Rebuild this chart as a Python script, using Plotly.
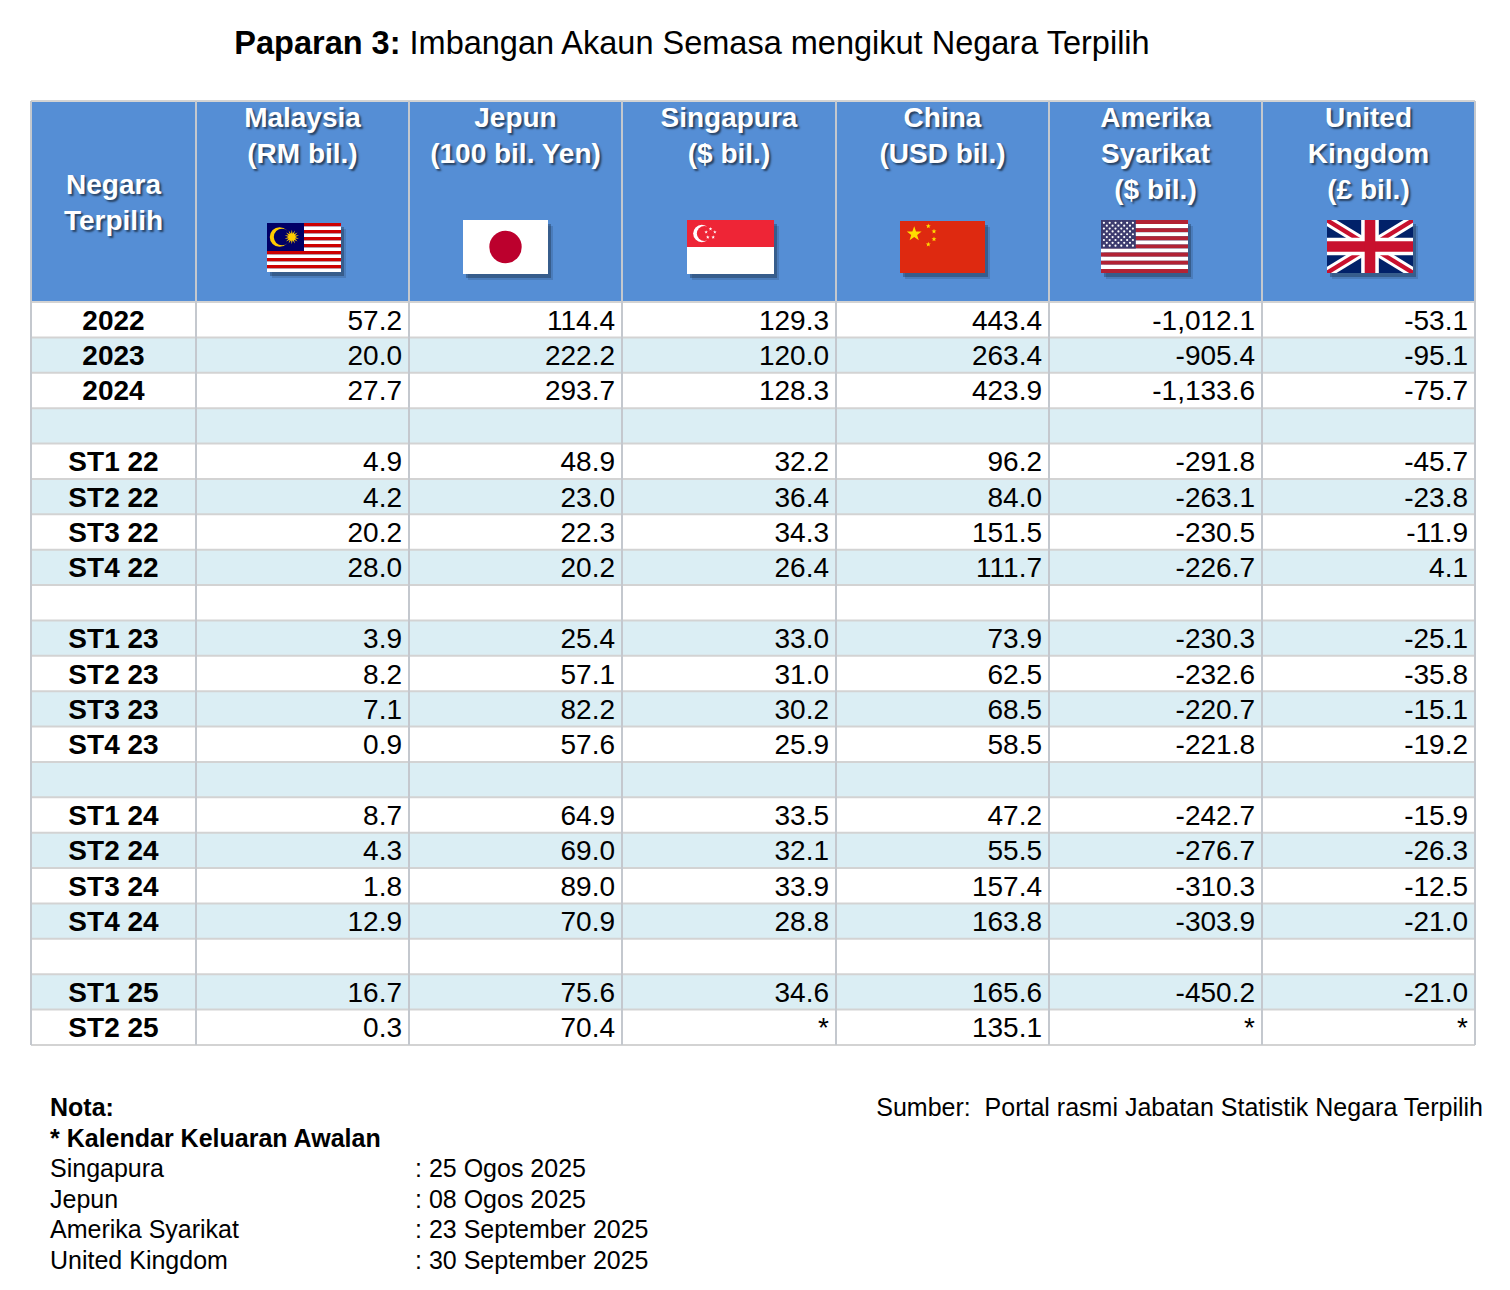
import math

import plotly.graph_objects as go

# ---------------- data ----------------
periods = [
    "2022", "2023", "2024", "",
    "ST1 22", "ST2 22", "ST3 22", "ST4 22", "",
    "ST1 23", "ST2 23", "ST3 23", "ST4 23", "",
    "ST1 24", "ST2 24", "ST3 24", "ST4 24", "",
    "ST1 25", "ST2 25",
]

malaysia = [57.2, 20.0, 27.7, None, 4.9, 4.2, 20.2, 28.0, None, 3.9, 8.2, 7.1, 0.9, None,
            8.7, 4.3, 1.8, 12.9, None, 16.7, 0.3]
jepun = [114.4, 222.2, 293.7, None, 48.9, 23.0, 22.3, 20.2, None, 25.4, 57.1, 82.2, 57.6, None,
         64.9, 69.0, 89.0, 70.9, None, 75.6, 70.4]
singapura = [129.3, 120.0, 128.3, None, 32.2, 36.4, 34.3, 26.4, None, 33.0, 31.0, 30.2, 25.9, None,
             33.5, 32.1, 33.9, 28.8, None, 34.6, "*"]
china = [443.4, 263.4, 423.9, None, 96.2, 84.0, 151.5, 111.7, None, 73.9, 62.5, 68.5, 58.5, None,
         47.2, 55.5, 157.4, 163.8, None, 165.6, 135.1]
amerika = [-1012.1, -905.4, -1133.6, None, -291.8, -263.1, -230.5, -226.7, None, -230.3, -232.6,
           -220.7, -221.8, None, -242.7, -276.7, -310.3, -303.9, None, -450.2, "*"]
uk = [-53.1, -95.1, -75.7, None, -45.7, -23.8, -11.9, 4.1, None, -25.1, -35.8, -15.1, -19.2, None,
      -15.9, -26.3, -12.5, -21.0, None, -21.0, "*"]

series = [malaysia, jepun, singapura, china, amerika, uk]

first_header = ["Negara", "Terpilih"]
headers = [
    ["Malaysia", "(RM bil.)"],
    ["Jepun", "(100 bil. Yen)"],
    ["Singapura", "($ bil.)"],
    ["China", "(USD bil.)"],
    ["Amerika", "Syarikat", "($ bil.)"],
    ["United", "Kingdom", "(£ bil.)"],
]

title_bold = "Paparan 3:"
title_rest = "Imbangan Akaun Semasa mengikut Negara Terpilih"
source = "Sumber:  Portal rasmi Jabatan Statistik Negara Terpilih"
note_head = ["Nota:", "* Kalendar Keluaran Awalan"]
release_country = ["Singapura", "Jepun", "Amerika Syarikat", "United Kingdom"]
release_date = ["25 Ogos 2025", "08 Ogos 2025", "23 September 2025", "30 September 2025"]

# ---------------- layout constants ----------------
W, H = 1510, 1290
PAGE_MARGIN = 8  # default body margin of the html page
FONT = "Liberation Sans, Arial, sans-serif"
COL_X = [31, 196, 409, 622, 836, 1049, 1262, 1475]
HEAD_TOP, HEAD_BOT, TABLE_BOT = 101, 302, 1045
ROW_H = (TABLE_BOT - HEAD_BOT) / len(periods)
HEAD_BLUE = "#558ED5"
ROW_BLUE = "#DBEEF4"
GRID = "#D3D3D3"
DY = 3  # baseline nudge for text


def fmt(v):
    if v is None:
        return ""
    if isinstance(v, str):
        return v
    return f"{v:,.1f}"


def rect(x0, y0, x1, y1, color):
    return dict(type="rect", xref="x", yref="y", x0=x0, y0=y0, x1=x1, y1=y1,
                fillcolor=color, line_width=0, layer="below")


def circle(cx, cy, r, color):
    return dict(type="circle", xref="x", yref="y", x0=cx - r, y0=cy - r, x1=cx + r, y1=cy + r,
                fillcolor=color, line_width=0, layer="below")


def poly(pts, color):
    path = "M " + " L ".join(f"{x:.2f},{y:.2f}" for x, y in pts) + " Z"
    return dict(type="path", xref="x", yref="y", path=path, fillcolor=color,
                line_width=0, layer="below")


def star(cx, cy, r_out, r_in, n, color, rot=-90):
    pts = []
    for k in range(2 * n):
        r = r_out if k % 2 == 0 else r_in
        a = math.radians(rot + k * 180 / n)
        pts.append((cx + r * math.cos(a), cy + r * math.sin(a)))
    return poly(pts, color)


def shadow(x0, y0, x1, y1):
    return [rect(x0 + 5, y0 + 6, x1 + 5, y1 + 6, "rgba(0,0,0,0.12)"),
            rect(x0 + 3, y0 + 4, x1 + 3, y1 + 4, "rgba(0,0,0,0.25)")]


shapes = []

# header + row fills
shapes.append(rect(COL_X[0], HEAD_TOP, COL_X[-1], HEAD_BOT, HEAD_BLUE))
for i in range(len(periods)):
    y0 = HEAD_BOT + i * ROW_H
    shapes.append(rect(COL_X[0], y0, COL_X[-1], y0 + ROW_H, "white" if i % 2 == 0 else ROW_BLUE))

# grid
for i in range(len(periods) + 1):
    y = HEAD_BOT + i * ROW_H
    shapes.append(dict(type="line", x0=COL_X[0], x1=COL_X[-1], y0=y, y1=y,
                       line=dict(color=GRID, width=2), layer="below"))
shapes.append(dict(type="line", x0=COL_X[0], x1=COL_X[-1], y0=HEAD_TOP, y1=HEAD_TOP,
                   line=dict(color=GRID, width=2), layer="below"))
for x in COL_X:
    shapes.append(dict(type="line", x0=x, x1=x, y0=HEAD_TOP, y1=TABLE_BOT,
                       line=dict(color="#C4C8CE", width=2), layer="below"))

# ---- flags ----
# Malaysia
x0, y0, x1, y1 = 267, 223, 341, 272
w, h = x1 - x0, y1 - y0
shapes += shadow(x0, y0, x1, y1)
for k in range(14):
    shapes.append(rect(x0, y0 + k * h / 14, x1, y0 + (k + 1) * h / 14,
                       "#CC0001" if k % 2 == 0 else "white"))
shapes.append(rect(x0, y0, x0 + w / 2, y0 + h * 8 / 14, "#010066"))
cy = y0 + h * 4 / 14
shapes.append(circle(x0 + w * 0.17, cy, h * 0.2, "#FFCC00"))
shapes.append(circle(x0 + w * 0.205, cy, h * 0.17, "#010066"))
shapes.append(star(x0 + w * 0.335, cy, h * 0.15, h * 0.07, 14, "#FFCC00"))

# Japan
x0, y0, x1, y1 = 463, 220, 548, 274
w, h = x1 - x0, y1 - y0
shapes += shadow(x0, y0, x1, y1)
shapes.append(rect(x0, y0, x1, y1, "white"))
shapes.append(circle((x0 + x1) / 2, (y0 + y1) / 2, h * 0.3, "#BC002D"))

# Singapore
x0, y0, x1, y1 = 687, 220, 774, 274
w, h = x1 - x0, y1 - y0
shapes += shadow(x0, y0, x1, y1)
shapes.append(rect(x0, y0, x1, y1, "white"))
shapes.append(rect(x0, y0, x1, y0 + h / 2, "#EE2536"))
cy = y0 + h * 0.25
shapes.append(circle(x0 + w * 0.17, cy, h * 0.16, "white"))
shapes.append(circle(x0 + w * 0.2, cy, h * 0.14, "#EE2536"))
for k in range(5):
    a = math.radians(-90 + k * 72)
    shapes.append(star(x0 + w * 0.27 + h * 0.085 * math.cos(a), cy + h * 0.085 * math.sin(a),
                       h * 0.035, h * 0.014, 5, "white"))

# China
x0, y0, x1, y1 = 900, 221, 985, 273
w, h = x1 - x0, y1 - y0
shapes += shadow(x0, y0, x1, y1)
shapes.append(rect(x0, y0, x1, y1, "#DE2910"))
shapes.append(star(x0 + w * 0.167, y0 + h * 0.25, h * 0.15, h * 0.06, 5, "#FFDE00"))
for fx, fy in [(0.333, 0.1), (0.4, 0.2), (0.4, 0.35), (0.333, 0.45)]:
    shapes.append(star(x0 + w * fx, y0 + h * fy, h * 0.05, h * 0.02, 5, "#FFDE00"))

# United States
x0, y0, x1, y1 = 1101, 220, 1188, 273
w, h = x1 - x0, y1 - y0
us_box = (x0, y0, w, h)
shapes += shadow(x0, y0, x1, y1)
for k in range(13):
    shapes.append(rect(x0, y0 + k * h / 13, x1, y0 + (k + 1) * h / 13,
                       "#B22234" if k % 2 == 0 else "white"))
shapes.append(rect(x0, y0, x0 + w * 0.4, y0 + h * 7 / 13, "#3C3B6E"))

# United Kingdom
x0, y0, x1, y1 = 1327, 220, 1413, 273
w, h = x1 - x0, y1 - y0
shapes += shadow(x0, y0, x1, y1)
shapes.append(rect(x0, y0, x1, y1, "#012169"))
ax, ay = w * 0.11, h * 0.12
shapes.append(poly([(x0, y0), (x0 + ax, y0), (x1, y1 - ay), (x1, y1), (x1 - ax, y1), (x0, y0 + ay)], "white"))
shapes.append(poly([(x1, y0), (x1, y0 + ay), (x0 + ax, y1), (x0, y1), (x0, y1 - ay), (x1 - ax, y0)], "white"))
ax, ay = w * 0.045, h * 0.05
shapes.append(poly([(x0, y0), (x0 + ax, y0), (x1, y1 - ay), (x1, y1), (x1 - ax, y1), (x0, y0 + ay)], "#C8102E"))
shapes.append(poly([(x1, y0), (x1, y0 + ay), (x0 + ax, y1), (x0, y1), (x0, y1 - ay), (x1 - ax, y0)], "#C8102E"))
cx, cy = (x0 + x1) / 2, (y0 + y1) / 2
shapes.append(rect(x0, cy - h / 6, x1, cy + h / 6, "white"))
shapes.append(rect(cx - h / 6, y0, cx + h / 6, y1, "white"))
shapes.append(rect(x0, cy - h / 10, x1, cy + h / 10, "#C8102E"))
shapes.append(rect(cx - h / 10, y0, cx + h / 10, y1, "#C8102E"))

fig = go.Figure()

# US stars
sx, sy = [], []
ux, uy, uw, uh = us_box
for r in range(9):
    n = 6 if r % 2 == 0 else 5
    for c in range(n):
        sx.append(ux + uw * 0.4 * ((c * 2 + (1 if r % 2 == 0 else 2)) / 12))
        sy.append(uy + uh * 7 / 13 * ((r + 1) / 10))
fig.add_trace(go.Scatter(x=sx, y=sy, mode="markers", hoverinfo="skip",
                         marker=dict(size=2.2, color="white", line_width=0)))

# title
fig.add_trace(go.Scatter(
    x=[692], y=[43 + DY], mode="text", hoverinfo="skip",
    text=[f"<b>{title_bold}</b> {title_rest}"],
    textfont=dict(family=FONT, size=32.5, color="black"),
))

# header text
hshadow = "2px 2px 2px rgba(0,0,0,0.55)"
hx, hy, ht = [], [], []
mid0 = (COL_X[0] + COL_X[1]) / 2
for j, line in enumerate(first_header):
    hx.append(mid0)
    hy.append(184 + DY + j * 36)
    ht.append(f"<b>{line}</b>")
for c, lines in enumerate(headers):
    mid = (COL_X[c + 1] + COL_X[c + 2]) / 2
    for j, line in enumerate(lines):
        hx.append(mid)
        hy.append(117 + DY + j * 36)
        ht.append(f"<b>{line}</b>")
fig.add_trace(go.Scatter(
    x=hx, y=hy, text=ht, mode="text", hoverinfo="skip",
    textfont=dict(family=FONT, size=28, color="white", shadow=hshadow),
))

# body: period labels
row_mid = [HEAD_BOT + (i + 0.5) * ROW_H + DY for i in range(len(periods))]
fig.add_trace(go.Scatter(
    x=[mid0] * len(periods), y=row_mid, text=[f"<b>{p}</b>" if p else "" for p in periods],
    mode="text", hoverinfo="skip",
    textfont=dict(family=FONT, size=28, color="black"),
))

# body: values (right aligned)
for c, vals in enumerate(series):
    fig.add_trace(go.Scatter(
        x=[COL_X[c + 2] - 7] * len(vals), y=row_mid, text=[fmt(v) for v in vals],
        mode="text", textposition="middle left", hoverinfo="skip",
        textfont=dict(family=FONT, size=28, color="black"),
    ))

# notes
fig.add_trace(go.Scatter(
    x=[50, 50], y=[1107 + DY, 1138 + DY], text=[f"<b>{t}</b>" for t in note_head],
    mode="text", textposition="middle right", hoverinfo="skip",
    textfont=dict(family=FONT, size=25, color="black"),
))
ny = [1168 + DY + k * 30.6 for k in range(len(release_country))]
fig.add_trace(go.Scatter(
    x=[50] * len(release_country), y=ny, text=release_country,
    mode="text", textposition="middle right", hoverinfo="skip",
    textfont=dict(family=FONT, size=25, color="black"),
))
fig.add_trace(go.Scatter(
    x=[415] * len(release_date), y=ny, text=[f": {d}" for d in release_date],
    mode="text", textposition="middle right", hoverinfo="skip",
    textfont=dict(family=FONT, size=25, color="black"),
))
fig.add_trace(go.Scatter(
    x=[1483], y=[1107 + DY], text=[source],
    mode="text", textposition="middle left", hoverinfo="skip",
    textfont=dict(family=FONT, size=25, color="black"),
))

fig.update_traces(cliponaxis=False, showlegend=False)
fig.update_layout(
    width=W - 2 * PAGE_MARGIN, height=H - 2 * PAGE_MARGIN,
    margin=dict(l=0, r=0, t=0, b=0),
    paper_bgcolor="white", plot_bgcolor="white",
    xaxis=dict(range=[PAGE_MARGIN, W - PAGE_MARGIN], visible=False, fixedrange=True),
    yaxis=dict(range=[H - PAGE_MARGIN, PAGE_MARGIN], visible=False, fixedrange=True),
    shapes=shapes,
)

fig.write_html("out.html")
